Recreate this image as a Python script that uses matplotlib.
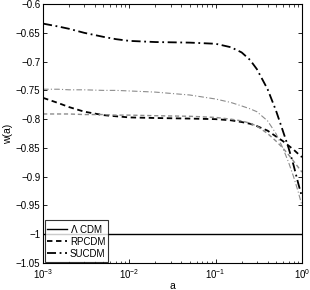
import matplotlib
matplotlib.use("Agg")
import matplotlib.pyplot as plt
import numpy as np

plt.rcParams['font.family'] = ['Liberation Sans', 'DejaVu Sans']

# scale factor grid for the w(a) curves
a_vals = [1e-3, 1.5e-3, 2e-3, 3e-3, 5e-3, 7e-3, 1e-2, 2e-2, 5e-2, 0.1,
          0.15, 0.2, 0.25, 0.3, 0.4, 0.5, 0.6, 0.7, 0.8, 0.9, 1.0]

w_lcdm = [-1.0] * len(a_vals)
w_rp1 = [-0.763, -0.772, -0.779, -0.787, -0.793, -0.795, -0.797, -0.798, -0.799, -0.800,
         -0.802, -0.805, -0.808, -0.812, -0.820, -0.830, -0.838, -0.846, -0.853, -0.860, -0.866]
w_rp2 = [-0.791, -0.791, -0.791, -0.792, -0.792, -0.793, -0.793, -0.794, -0.795, -0.797,
         -0.800, -0.803, -0.807, -0.812, -0.825, -0.838, -0.850, -0.862, -0.873, -0.883, -0.892]
w_su1 = [-0.634, -0.639, -0.643, -0.650, -0.657, -0.661, -0.664, -0.666, -0.667, -0.669,
         -0.675, -0.684, -0.697, -0.713, -0.748, -0.785, -0.820, -0.850, -0.880, -0.910, -0.935]
w_su2 = [-0.748, -0.748, -0.749, -0.749, -0.750, -0.750, -0.751, -0.753, -0.758, -0.765,
         -0.771, -0.777, -0.782, -0.787, -0.803, -0.825, -0.850, -0.875, -0.900, -0.925, -0.950]

labels = ['$\\Lambda$ CDM', 'RPCDM', 'SUCDM']

fig = plt.figure(figsize=(3.1, 2.9), dpi=100)
ax = fig.add_axes([0.139, 0.093, 0.835, 0.893])

ax.plot(a_vals, w_lcdm, color='k', lw=1.0, ls='-', label=labels[0])
ax.plot(a_vals, w_rp1, color='k', lw=1.3, ls=(0, (3, 2)), label=labels[1])
ax.plot(a_vals, w_su1, color='k', lw=1.3, ls=(0, (5, 2, 1, 2)), label=labels[2])
ax.plot(a_vals, w_rp2, color='0.55', lw=1.0, ls=(0, (3, 2)))
ax.plot(a_vals, w_su2, color='0.55', lw=0.8, ls=(0, (5, 2, 1, 2)))

ax.set_xscale('log')
ax.set_xlim(1e-3, 1)
ax.set_ylim(-1.05, -0.6)
ax.set_yticks(np.arange(-1.05, -0.599, 0.05))
ax.set_yticklabels(['\u22121.05', '\u22121', '\u22120.95', '\u22120.9', '\u22120.85',
                    '\u22120.8', '\u22120.75', '\u22120.7', '\u22120.65', '\u22120.6'])
ax.tick_params(which='both', direction='in', top=True, right=True, labelsize=7)
ax.tick_params(axis='x', pad=3)
ax.tick_params(axis='y', pad=2)
ax.tick_params(which='major', length=3, width=0.6)
ax.tick_params(which='minor', length=1.8, width=0.5)
for s in ax.spines.values():
    s.set_linewidth(0.8)

ax.set_xlabel('a', fontsize=7.5, labelpad=0)
ax.set_ylabel('w(a)', fontsize=7.5)
ax.yaxis.set_label_coords(-0.115, 0.5)

leg = ax.legend(loc='lower left', fontsize=7, frameon=True, fancybox=False,
                edgecolor='k', borderpad=0.3, labelspacing=0.2, handlelength=2.0,
                handletextpad=0.3, borderaxespad=0.15)
leg.get_frame().set_linewidth(0.8)

fig.savefig('out.png', dpi=100)
